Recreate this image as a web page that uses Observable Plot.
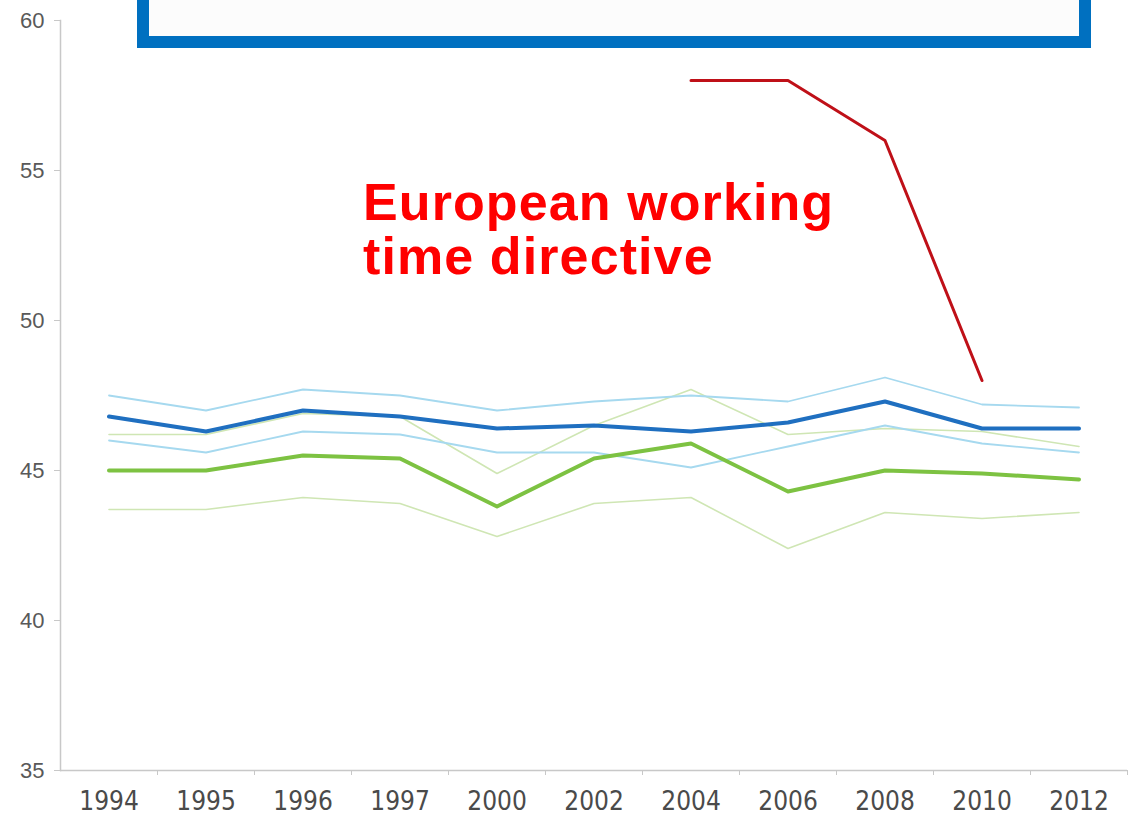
<!DOCTYPE html>
<html>
<head>
<meta charset="utf-8">
<script src="https://cdn.jsdelivr.net/npm/d3@7"></script>
<script src="https://cdn.jsdelivr.net/npm/@observablehq/plot@0.6"></script>
<style>
  html, body { margin: 0; padding: 0; background: #fff; }
  #wrap { position: relative; width: 1134px; height: 816px; overflow: hidden; }
  #box {
    position: absolute; left: 137px; top: -12px; width: 954px; height: 60px;
    box-sizing: border-box; border: 12px solid #0070c0; background: #fcfcfc;
  }
  svg { position: absolute; left: 0; top: 0; }
  g[aria-label="text"] text { letter-spacing: 1.1px; }
</style>
</head>
<body>
<div id="wrap"><div id="box"></div></div>
<script>
// Categories (x axis)
const years = ["1994","1995","1996","1997","2000","2002","2004","2006","2008","2010","2012"];
// Y tick labels
const yTicks = [35, 40, 45, 50, 55, 60];

// Series values (hours per week)
const darkBlue        = [46.8, 46.3, 47.0, 46.8, 46.4, 46.5, 46.3, 46.6, 47.3, 46.4, 46.4];
const lightBlueUpper  = [47.5, 47.0, 47.7, 47.5, 47.0, 47.3, 47.5, 47.3, 48.1, 47.2, 47.1];
const lightBlueLower  = [46.0, 45.6, 46.3, 46.2, 45.6, 45.6, 45.1, 45.8, 46.5, 45.9, 45.6];
const green           = [45.0, 45.0, 45.5, 45.4, 43.8, 45.4, 45.9, 44.3, 45.0, 44.9, 44.7];
const lightGreenUpper = [46.2, 46.2, 46.9, 46.8, 44.9, 46.5, 47.7, 46.2, 46.4, 46.3, 45.8];
const lightGreenLower = [43.7, 43.7, 44.1, 43.9, 42.8, 43.9, 44.1, 42.4, 43.6, 43.4, 43.6];
const redYears  = ["2004","2006","2008","2010"];
const redValues = [58, 58, 56, 48];

// Annotation
const annotation = [{year: "1997", value: 54.64, text: "European working\ntime directive"}];

const series = [
  {name: "lightGreenUpper", values: lightGreenUpper, stroke: "#cfe6b4", width: 1.6},
  {name: "lightGreenLower", values: lightGreenLower, stroke: "#cfe6b4", width: 1.6},
  {name: "lightBlueUpper",  values: lightBlueUpper,  stroke: "#a6d9ef", width: 1.8},
  {name: "lightBlueLower",  values: lightBlueLower,  stroke: "#a6d9ef", width: 1.8},
  {name: "green",           values: green,           stroke: "#7dc242", width: 4},
  {name: "darkBlue",        values: darkBlue,        stroke: "#1f6fc0", width: 4}
];

const idx = y => years.indexOf(y);

const lineMarks = series.map(s =>
  Plot.line(years.map((y, i) => ({i, value: s.values[i]})), {
    x: "i", y: "value", stroke: s.stroke, strokeWidth: s.width, curve: "linear"
  })
);

const redRows = redYears.map((y, k) => ({i: idx(y), value: redValues[k]}));

const chart = Plot.plot({
  width: 1134,
  height: 816,
  marginTop: 20,
  marginBottom: 46,
  marginLeft: 60,
  marginRight: 7,
  style: {background: "transparent"},
  x: {type: "linear", domain: [-0.5, years.length - 0.5]},
  y: {domain: [35, 60]},
  marks: [
    Plot.axisY({
      ticks: yTicks, tickSize: 6, tickPadding: 10, stroke: "#c8c8c8",
      fill: "#595959", fontSize: 22, fontFamily: "Liberation Sans, Arial, sans-serif", label: null
    }),
    Plot.axisX({
      ticks: d3.range(years.length), tickFormat: i => years[i], tickSize: 0, tickPadding: 21,
      fill: "#4a4a4a", fontSize: 26,
      fontFamily: "'Liberation Sans Narrow', 'DejaVu Sans Condensed', sans-serif", label: null
    }),
    Plot.axisX({
      ticks: d3.range(years.length).map(i => i + 0.5), tickFormat: () => "",
      tickSize: 5, stroke: "#c8c8c8", label: null
    }),
    Plot.ruleY([35], {stroke: "#c8c8c8", strokeWidth: 1.5}),
    Plot.frame({anchor: "left", stroke: "#c8c8c8", strokeWidth: 1.5}),
    ...lineMarks,
    Plot.line(redRows, {x: "i", y: "value", stroke: "#bf1018", strokeWidth: 3}),
    Plot.text(annotation, {
      x: d => idx(d.year), y: "value", text: "text", dx: -37,
      textAnchor: "start", lineAnchor: "top", lineHeight: 1.04,
      fill: "#ff0000", fontSize: 52, fontWeight: "bold",
      fontFamily: "'Liberation Sans', Arial, sans-serif"
    })
  ]
});

const wrap = document.getElementById("wrap");
wrap.insertBefore(chart, wrap.firstChild);
</script>
</body>
</html>
